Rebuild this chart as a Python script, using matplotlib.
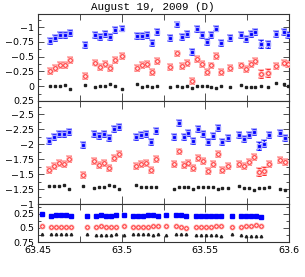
import numpy as np
import matplotlib
matplotlib.use("Agg")
import matplotlib.pyplot as plt
from matplotlib.ticker import MultipleLocator, FuncFormatter

# times (days) for each panel
t_top = [63.4570, 63.4600, 63.4630, 63.4660, 63.4688, 63.4778, 63.4841, 63.4871,
         63.4901, 63.4929, 63.4959, 63.4999, 63.5093, 63.5123, 63.5153, 63.5181,
         63.5211, 63.5290, 63.5332, 63.5362, 63.5392, 63.5420, 63.5450, 63.5480,
         63.5508, 63.5536, 63.5566, 63.5596, 63.5648, 63.5712, 63.5742, 63.5772,
         63.5799, 63.5832, 63.5877, 63.5922, 63.5971, 63.5995]
t_mid = [63.4566, 63.4595, 63.4624, 63.4653, 63.4683, 63.4765, 63.4835, 63.4865,
         63.4895, 63.4925, 63.4953, 63.4985, 63.5087, 63.5118, 63.5148, 63.5177,
         63.5205, 63.5310, 63.5341, 63.5370, 63.5399, 63.5428, 63.5458, 63.5487,
         63.5517, 63.5546, 63.5574, 63.5603, 63.5634, 63.5704, 63.5734, 63.5763,
         63.5793, 63.5823, 63.5852, 63.5880, 63.5948, 63.5979]
t_bot = [63.4520, 63.4578, 63.4608, 63.4638, 63.4668, 63.4698, 63.4790, 63.4847,
         63.4877, 63.4907, 63.4937, 63.4965, 63.5015, 63.5067, 63.5097, 63.5127,
         63.5157, 63.5187, 63.5217, 63.5266, 63.5326, 63.5356, 63.5386, 63.5443,
         63.5473, 63.5503, 63.5533, 63.5563, 63.5593, 63.5662, 63.5716, 63.5746,
         63.5775, 63.5805, 63.5835]

# top panel
top_blue = [-0.76, -0.82, -0.86, -0.87, -0.905, -0.69, -0.87, -0.83, -0.88, -0.83,
            -0.945, -0.975, -0.845, -0.845, -0.87, -0.73, -0.92, -0.81, -1.045, -0.825,
            -0.88, -0.575, -0.97, -0.87, -0.745, -0.86, -0.975, -0.735, -0.81, -0.865,
            -0.795, -0.88, -0.915, -0.71, -0.705, -0.88, -0.92, -0.87]
top_red = [-0.255, -0.31, -0.36, -0.36, -0.44, -0.18, -0.40, -0.33, -0.38, -0.30,
           -0.445, -0.51, -0.305, -0.36, -0.38, -0.24, -0.42, -0.32, -0.555, -0.345,
           -0.39, -0.095, -0.455, -0.37, -0.24, -0.35, -0.51, -0.235, -0.315, -0.35,
           -0.295, -0.38, -0.43, -0.21, -0.22, -0.335, -0.40, -0.38]
top_black = [0, 0, 0, -0.02, 0.04, -0.015, 0.015, 0, -0.01, -0.03, -0.005, 0.04,
             -0.03, 0.005, -0.01, 0.005, 0, 0.015, 0.0, 0.015, 0, 0.03, -0.005, 0,
             -0.005, 0.005, 0.025, -0.005, 0.01, -0.015, 0.005, 0.005, 0.015, 0.0,
             0.01, -0.05, -0.03, 0.0]
top_blue_err = [0.05, 0.05, 0.05, 0.05, 0.05, 0.05, 0.05, 0.05, 0.05, 0.05, 0.05, 0.05,
                0.05, 0.05, 0.05, 0.05, 0.05, 0.05, 0.045, 0.05, 0.05, 0.05, 0.05, 0.05,
                0.05, 0.05, 0.05, 0.05, 0.05, 0.05, 0.05, 0.05, 0.05, 0.065, 0.065, 0.05,
                0.05, 0.05]
top_red_err = [0.05, 0.05, 0.05, 0.05, 0.05, 0.05, 0.05, 0.05, 0.05, 0.05, 0.05, 0.05,
               0.05, 0.05, 0.05, 0.05, 0.05, 0.05, 0.045, 0.05, 0.05, 0.05, 0.05, 0.05,
               0.05, 0.05, 0.05, 0.05, 0.05, 0.05, 0.05, 0.05, 0.05, 0.065, 0.065, 0.05,
               0.05, 0.05]

# middle panel
mid_blue = [-2.06, -2.12, -2.167, -2.167, -2.195, -1.99, -2.175, -2.135, -2.167, -2.11,
            -2.257, -2.278, -2.125, -2.15, -2.167, -2.04, -2.22,
            -2.12, -2.35, -2.12, -2.18, -2.045, -2.245, -2.17, -2.03, -2.133, -2.265,
            -2.035, -2.10, -2.155, -2.085, -2.155, -2.21, -1.968, -2.01, -2.145, -2.178,
            -2.10]
mid_red = [-1.575, -1.637, -1.688, -1.672, -1.748, -1.483, -1.718, -1.655, -1.685, -1.60,
           -1.77, -1.833, -1.628, -1.667, -1.685, -1.56, -1.748,
           -1.662, -1.878, -1.65, -1.69, -1.595, -1.762, -1.71, -1.55, -1.665, -1.828,
           -1.567, -1.64, -1.662, -1.64, -1.705, -1.788, -1.53, -1.555, -1.662, -1.733,
           -1.705]
mid_black = [-1.295, -1.295, -1.295, -1.31, -1.25, -1.295, -1.262, -1.285, -1.285, -1.31,
             -1.295, -1.247, -1.31, -1.285, -1.29, -1.285, -1.285,
             -1.258, -1.277, -1.277, -1.285, -1.25, -1.287, -1.28, -1.287, -1.28, -1.245,
             -1.272, -1.272, -1.302, -1.265, -1.265, -1.237, -1.265, -1.275, -1.29,
             -1.252, -1.234]
mid_blue_err = [0.05] * 17 + [0.05, 0.045, 0.05, 0.05, 0.05, 0.05, 0.05, 0.05, 0.05, 0.05,
                              0.05, 0.05, 0.05, 0.05, 0.05, 0.05, 0.065, 0.065, 0.05,
                              0.05, 0.05]
mid_red_err = [0.05] * 17 + [0.05, 0.045, 0.05, 0.05, 0.05, 0.05, 0.05, 0.05, 0.05, 0.05,
                             0.05, 0.05, 0.05, 0.05, 0.05, 0.05, 0.065, 0.065, 0.05,
                             0.05, 0.05]

# bottom panel (comparison stars)
bot_blue = [0.26, 0.286, 0.274, 0.274, 0.28, 0.286, 0.29, 0.286, 0.27, 0.30, 0.29, 0.274,
            0.27, 0.286, 0.286, 0.286, 0.28, 0.28, 0.286, 0.274, 0.28, 0.28, 0.30, 0.30,
            0.286, 0.29, 0.29, 0.286, 0.29, 0.286, 0.29, 0.29, 0.30, 0.286, 0.315]
bot_red = [0.468, 0.49, 0.48, 0.48, 0.48, 0.49, 0.49, 0.48, 0.468, 0.49, 0.49, 0.48,
           0.468, 0.49, 0.48, 0.48, 0.48, 0.468, 0.468, 0.463, 0.463, 0.49, 0.498, 0.49,
           0.49, 0.48, 0.48, 0.468, 0.463, 0.48, 0.49, 0.468, 0.468, 0.445, 0.468]
bot_black = [0.609, 0.615, 0.615, 0.615, 0.615, 0.609, 0.615, 0.62, 0.62, 0.62, 0.62,
             0.609, 0.627, 0.615, 0.615, 0.615, 0.615, 0.62, 0.615, 0.62, 0.615, 0.603,
             0.615, 0.627, 0.627, 0.627, 0.627, 0.627, 0.644, 0.615, 0.627, 0.638, 0.638,
             0.644, 0.644]

BLUE, LBLUE = "#0000ff", "#a8a8ff"
RED, LRED = "#ff2020", "#ffb4b4"


def fmt(v, pos):
    s = "%g" % v
    return s.replace("-", "\u2212")


def style(ax, ylim, labels_x=False):
    ax.set_xlim(63.45, 63.6)
    ax.set_ylim(*ylim)
    ax.xaxis.set_major_locator(MultipleLocator(0.05))
    ax.xaxis.set_minor_locator(MultipleLocator(0.025))
    ax.yaxis.set_major_locator(MultipleLocator(0.25))
    ax.yaxis.set_minor_locator(MultipleLocator(0.125))
    ax.yaxis.set_major_formatter(FuncFormatter(fmt))
    ax.xaxis.set_major_formatter(FuncFormatter(lambda v, p: "%g" % v))
    ax.tick_params(which="both", direction="in", top=True, right=True,
                   width=0.6, labelsize=6.8, color="#333333")
    ax.tick_params(which="major", length=4, pad=3)
    ax.tick_params(which="minor", length=2.2)
    ax.tick_params(axis="x", which="major", length=5.5)
    ax.tick_params(axis="x", which="minor", length=4)
    if not labels_x:
        ax.tick_params(axis="x", labelbottom=False)
    for s in ax.spines.values():
        s.set_linewidth(0.8)
        s.set_color("#333333")


def err_points(ax, t, y, e, dark, light, marker, mfc, ms):
    ax.errorbar(t, y, yerr=e, fmt="none", ecolor=light, elinewidth=1.6,
                capsize=1.9, capthick=1.4, zorder=2)
    ax.errorbar(t, y, yerr=e, fmt="none", ecolor=dark, elinewidth=0.6,
                capsize=1.6, capthick=0.6, zorder=3)
    ax.plot(t, y, marker, ms=ms + 1.3, color=light, ls="none", zorder=4)
    ax.plot(t, y, marker, ms=ms, mfc=mfc, mec=dark, mew=0.6, ls="none", zorder=5)


fig = plt.figure(figsize=(3.05, 2.77), dpi=100)
W, H = 305.0, 277.0
x0, x1 = 38.3, 288.7


def make_ax(ytop, ybot):
    return fig.add_axes([x0 / W, (H - ybot) / H, (x1 - x0) / W, (ybot - ytop) / H])


ax1 = make_ax(14, 101)
ax2 = make_ax(101, 204)
ax3 = make_ax(204, 242)

style(ax1, (0.25, -1.22))
style(ax2, (-1.0, -2.72))
style(ax3, (0.75, 0.08), labels_x=True)

err_points(ax1, t_top, top_blue, top_blue_err, BLUE, LBLUE, "s", BLUE, 2.0)
err_points(ax1, t_top, top_red, top_red_err, RED, LRED, "o", "#ffe6e6", 2.6)
ax1.plot(t_top, top_black, "s", ms=1.8, color="#222222", ls="none", zorder=5)

err_points(ax2, t_mid, mid_blue, mid_blue_err, BLUE, LBLUE, "s", BLUE, 2.0)
err_points(ax2, t_mid, mid_red, mid_red_err, RED, LRED, "o", "#ffe6e6", 2.6)
ax2.plot(t_mid, mid_black, "s", ms=1.8, color="#222222", ls="none", zorder=5)

ax3.plot(t_bot, bot_blue, "s", ms=2.2, color=BLUE, ls="none", zorder=5)
ax3.plot(t_bot, bot_red, "o", ms=3.4, color=LRED, ls="none", zorder=4)
ax3.plot(t_bot, bot_red, "o", ms=2.5, mfc="#ffe6e6", mec=RED, mew=0.6, ls="none", zorder=5)
ax3.plot(t_bot, bot_black, "^", ms=1.8, color="#222222", ls="none", zorder=5)

fig.text(0.5, 1 - 7.5 / H, "August 19, 2009 (D)", ha="center", va="center",
         family="Liberation Mono", fontsize=7.8)

fig.savefig("out.png", dpi=100)
